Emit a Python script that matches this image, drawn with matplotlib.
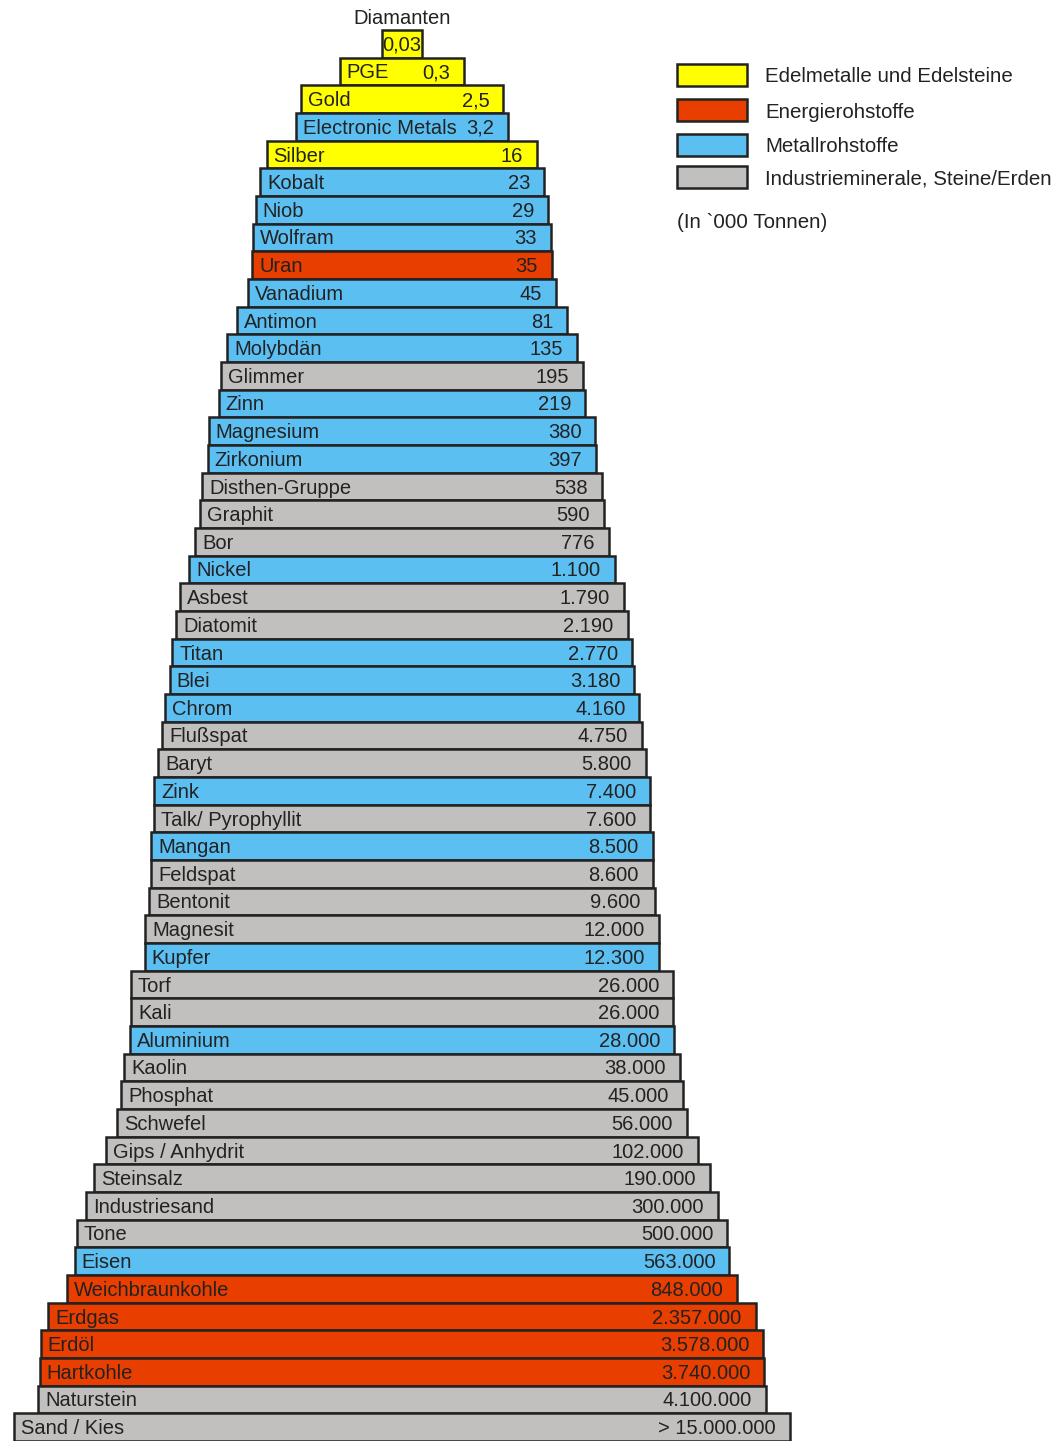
import numpy as np
import matplotlib
matplotlib.use("Agg")
import matplotlib.pyplot as plt
from matplotlib.patches import Rectangle

plt.rcParams['font.family'] = ['Liberation Sans', 'DejaVu Sans']

# Weltproduktion mineralischer Rohstoffe (in '000 Tonnen), von oben nach unten
names = ["Diamanten", "PGE", "Gold", "Electronic Metals", "Silber", "Kobalt", "Niob",
         "Wolfram", "Uran", "Vanadium", "Antimon", "Molybdän", "Glimmer", "Zinn",
         "Magnesium", "Zirkonium", "Disthen-Gruppe", "Graphit", "Bor", "Nickel",
         "Asbest", "Diatomit", "Titan", "Blei", "Chrom", "Flußspat", "Baryt", "Zink",
         "Talk/ Pyrophyllit", "Mangan", "Feldspat", "Bentonit", "Magnesit", "Kupfer",
         "Torf", "Kali", "Aluminium", "Kaolin", "Phosphat", "Schwefel",
         "Gips / Anhydrit", "Steinsalz", "Industriesand", "Tone", "Eisen",
         "Weichbraunkohle", "Erdgas", "Erdöl", "Hartkohle", "Naturstein", "Sand / Kies"]
values = [0.03, 0.3, 2.5, 3.2, 16, 23, 29, 33, 35, 45, 81, 135, 195, 219, 380, 397,
          538, 590, 776, 1100, 1790, 2190, 2770, 3180, 4160, 4750, 5800, 7400, 7600,
          8500, 8600, 9600, 12000, 12300, 26000, 26000, 28000, 38000, 45000, 56000,
          102000, 190000, 300000, 500000, 563000, 848000, 2357000, 3578000, 3740000,
          4100000, 15000000]
# E = Edelmetalle/Edelsteine, N = Energie, M = Metalle, I = Industrieminerale
groups = list("EEEMEMMMNMMMIMMMIIIMIIMMMIIMIMIIIMIIMIIIIIIIMNNNNII")

group_labels = {"E": "Edelmetalle und Edelsteine",
                "N": "Energierohstoffe",
                "M": "Metallrohstoffe",
                "I": "Industrieminerale, Steine/Erden"}
colors = {"E": "#FFFF00", "N": "#E83E00", "M": "#5CBFF2", "I": "#C1C0BE"}


def fmt(v):
    if v < 10 and v != int(v):
        return ("%g" % v).replace(".", ",")
    return "{:,}".format(int(v)).replace(",", ".")


W, H = 1059, 1441
fig = plt.figure(figsize=(W / 100, H / 100), dpi=100)
ax = fig.add_axes([0, 0, 1, 1])
ax.set_xlim(0, W)
ax.set_ylim(H, 0)
ax.axis("off")

cx = 402
top = 30
step = (H - top) / len(names)
edge = "#222222"
fs = 14.5
lw = 1.8

for i, (n, v, g) in enumerate(zip(names, values, groups)):
    w = 169 + 84.5 * np.log10(v)
    y = top + step * (i + 0.5)
    left = cx - w / 2
    ax.barh(y, w, left=left, height=step, color=colors[g], edgecolor=edge,
            linewidth=lw)
    if i == 0:
        ax.text(cx, y + 1, fmt(v), ha="center", va="center", fontsize=fs, color=edge)
        ax.text(cx, y - step * 0.9, n, ha="center", va="center", fontsize=fs,
                color=edge)
        continue
    lab = fmt(v)
    if n == "Sand / Kies":
        lab = "> " + lab
    ax.text(left + 7, y + 1.5, n, ha="left", va="center", fontsize=fs, color=edge)
    ax.text(left + w - 14, y + 1.5, lab, ha="right", va="center", fontsize=fs,
            color=edge)

# Legende
for k, g in enumerate("ENMI"):
    ly = [75, 110, 145, 177][k]
    ax.add_patch(Rectangle((677, ly - 11), 70, 22, facecolor=colors[g],
                           edgecolor=edge, linewidth=lw))
    ax.text(765, ly + 2, group_labels[g], ha="left", va="center", fontsize=14.8,
            color=edge)
ax.text(677, 222, "(In `000 Tonnen)", ha="left", va="center", fontsize=14.8,
        color=edge)

fig.savefig("out.png", dpi=100)
